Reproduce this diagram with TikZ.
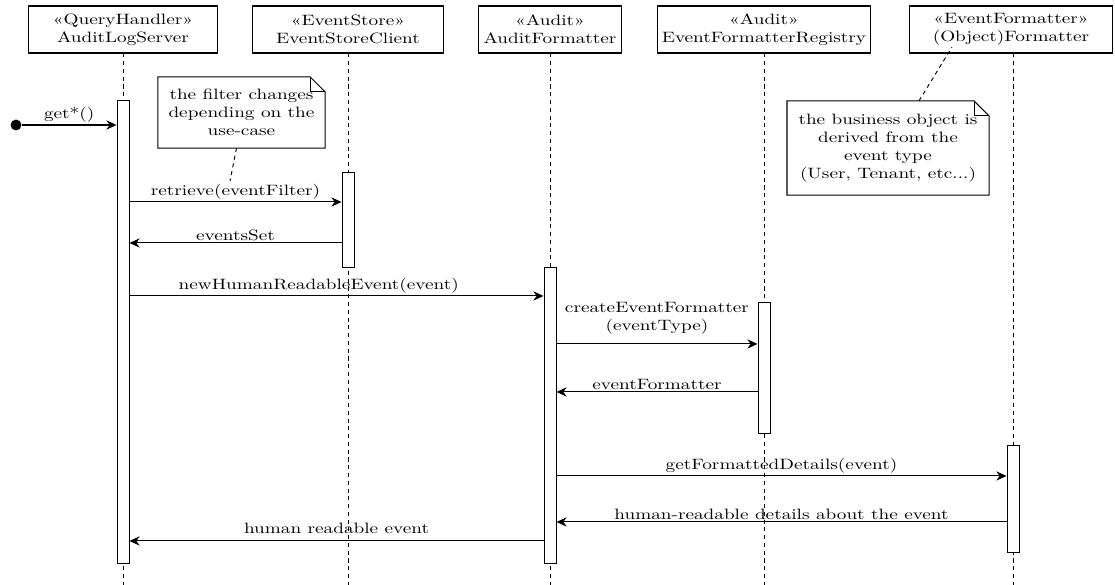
\documentclass[tikz,border=0pt]{standalone}
\usepackage{tikz}
\usetikzlibrary{arrows.meta,calc}

\tikzset{
  txt/.style={transform shape, font=\fontsize{10.4}{12.5}\selectfont},
  hdr/.style={txt, draw, line width=0.6pt, align=center, inner xsep=0.5pt, minimum height=32.5pt},
  lifeline/.style={dash pattern=on 2.2pt off 2pt, line width=0.5pt},
  act/.style={draw, fill=white, line width=0.5pt, minimum width=6.5pt, inner sep=0pt, anchor=north},
  msg/.style={line width=0.55pt, -{Stealth[length=5.5pt,width=5pt]}},
  lbl/.style={txt, inner sep=1.5pt, above},
  note/.style={txt, align=center, inner sep=0pt},
  notebox/.style={line width=0.55pt},
  notelink/.style={dash pattern=on 2.2pt off 2pt, line width=0.5pt},
  startdot/.style={circle, fill=black, minimum size=5.9pt, inner sep=0pt}
}

% dog-eared note outline round a named node
\newcommand{\drawnote}[1]{%
  \draw[notebox] (#1.north west) -- ($(#1.north east)+(-15,0)$) -- ($(#1.north east)+(0,15)$)
    -- (#1.south east) -- (#1.south west) -- cycle;
  \draw[notebox] ($(#1.north east)+(-15,0)$) |- ($(#1.north east)+(0,15)$);}

\begin{document}
\begin{tikzpicture}[x=0.019cm, y=-0.024359cm, yscale=0.78]
\useasboundingbox (0,0) rectangle (1115,585);
\coordinate (bottom) at (0,585);
%
% participants
\node[hdr, minimum width=102.4pt] (als) at (123,29.5) {«QueryHandler»\\AuditLogServer};
\node[hdr, minimum width=102.9pt] (esc) at (348,29.5) {«EventStore»\\EventStoreClient};
\node[hdr, minimum width=77pt] (afm) at (550,29.5) {«Audit»\\AuditFormatter};
\node[hdr, minimum width=115.3pt] (efr) at (764,29.5) {«Audit»\\EventFormatterRegistry};
\node[hdr, minimum width=110pt] (ofm) at (1011,29.5) {«EventFormatter»\\(Object)Formatter};
%
\draw[lifeline] (als.south) -- (als.south |- bottom);
\draw[lifeline] (esc.south) -- (esc.south |- bottom);
\draw[lifeline] (afm.south) -- (afm.south |- bottom);
\draw[lifeline] (efr.south) -- (efr.south |- bottom);
\draw[lifeline] ($(ofm.south)+(2,0)$) -- ($(ofm.south |- bottom)+(2,0)$);
%
% activations
\node[act, minimum height=250pt] (a1) at (123,100) {};
\node[act, minimum height=51.2pt] (a2) at (348,172) {};
\node[act, minimum height=160pt] (a3) at (550,267) {};
\node[act, minimum height=70.6pt] (a4) at (764,302) {};
\node[act, minimum height=57.6pt] (a5) at (1013,445) {};
%
% messages
\node[startdot] (start) at (16,125) {};
\draw[msg] (start) -- (a1.west |- start) node[lbl, midway] {get*()};
\draw[msg] (a1.east |- 0,202) -- (a2.west |- 0,202) node[lbl, midway] {retrieve(eventFilter)};
\draw[msg] (a2.west |- 0,243) -- (a1.east |- 0,243) node[lbl, midway] {eventsSet};
\draw[msg] (a1.east |- 0,296) -- (a3.west |- 0,296) node[lbl, pos=0.457] {newHumanReadableEvent(event)};
\draw[msg] (a3.east |- 0,344) -- (a4.west |- 0,344) node[lbl, midway, above=5pt, align=center] {createEventFormatter\\(eventType)};
\draw[msg] (a4.west |- 0,392) -- (a3.east |- 0,392) node[lbl, midway] {eventFormatter};
\draw[msg] (a3.east |- 0,476) -- (a5.west |- 0,476) node[lbl, midway] {getFormattedDetails(event)};
\draw[msg] (a5.west |- 0,522) -- (a3.east |- 0,522) node[lbl, midway] {human-readable details about the event};
\draw[msg] (a3.west |- 0,541) -- (a1.east |- 0,541) node[lbl, midway, above=3pt] {human readable event};
%
% notes
\node[note, minimum width=90pt, minimum height=49pt] (n1) at (241.5,112.5) {the filter changes\\depending on the\\use-case};
\drawnote{n1}
\coordinate (n1pin) at (230,181);
\draw[notelink] ($(n1.south)+(-5,0)$) -- (n1pin);
%
\node[note, minimum width=108.8pt, minimum height=64.9pt] (n2) at (888,148) {the business object is\\derived from the\\event type\\(User, Tenant, etc...)};
\drawnote{n2}
\coordinate (n2pin) at (952,47);
\draw[notelink] ($(n2.north)+(31,0)$) -- (n2pin);
\end{tikzpicture}
\end{document}
